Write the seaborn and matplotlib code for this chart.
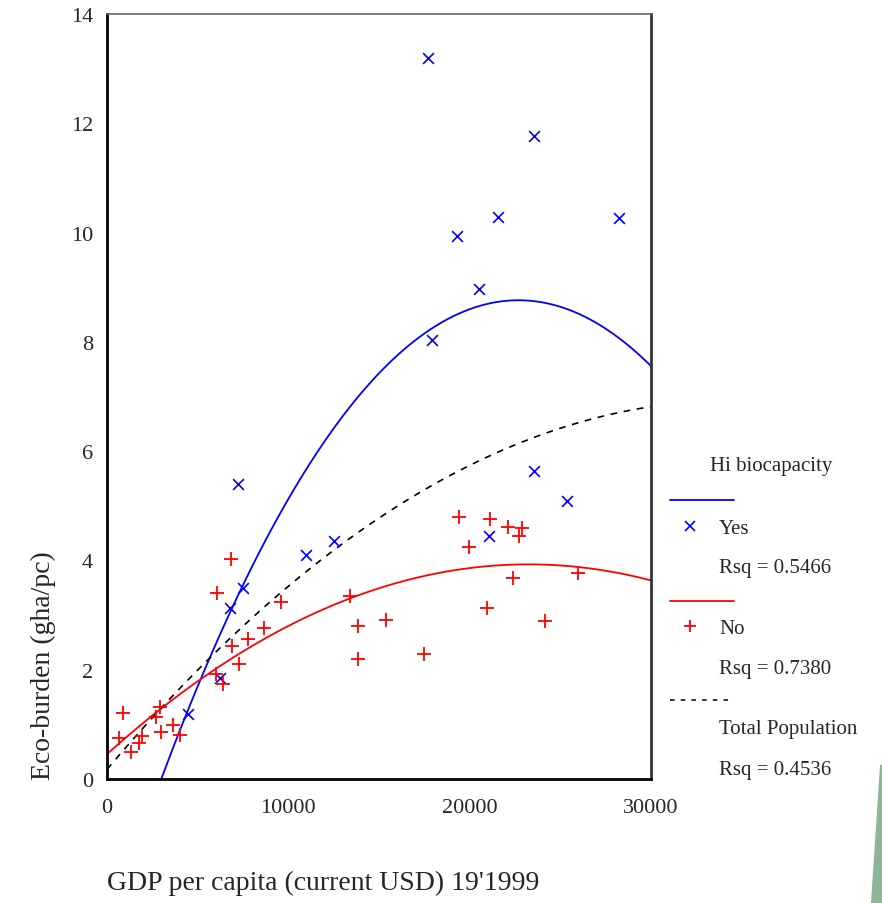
import matplotlib.pyplot as plt
import seaborn as sns
import pandas as pd
from matplotlib.lines import Line2D
from matplotlib.patches import Polygon

# Hi biocapacity = Yes
yes_gdp = [17700, 23550, 21570, 19300, 28240, 20520, 17930, 7230, 23550, 25370,
           10980, 12520, 21070, 7500, 6780, 6230, 4470]
yes_eco = [13.19, 11.76, 10.29, 9.94, 10.26, 8.96, 8.04, 5.40, 5.64, 5.09,
           4.10, 4.36, 4.45, 3.50, 3.13, 1.85, 1.19]

# Hi biocapacity = No
no_gdp = [6840, 6070, 9600, 13400, 8660, 7780, 6890, 7280, 13840, 15390,
          13840, 6010, 6400, 2920, 2700, 880, 3640, 2980, 4030, 1930,
          1770, 660, 1320, 19400, 21100, 22100, 22900, 22700, 19970, 25980,
          22400, 20960, 24160, 17480]
no_eco = [4.02, 3.41, 3.24, 3.35, 2.77, 2.56, 2.44, 2.11, 2.80, 2.91,
          2.20, 1.92, 1.74, 1.32, 1.14, 1.21, 0.99, 0.86, 0.81, 0.79,
          0.66, 0.75, 0.49, 4.80, 4.76, 4.62, 4.60, 4.45, 4.25, 3.77,
          3.68, 3.13, 2.89, 2.29]

rsq_labels = ["Rsq = 0.5466", "Rsq = 0.7380", "Rsq = 0.4536"]
y_ticks = [0, 2, 4, 6, 8, 10, 12, 14]
x_ticks = [0, 10000, 20000, 30000]

df = pd.concat([
    pd.DataFrame({"gdp": yes_gdp, "eco": yes_eco, "hibio": "Yes"}),
    pd.DataFrame({"gdp": no_gdp, "eco": no_eco, "hibio": "No"}),
], ignore_index=True)

sns.set_style("white")
plt.rcParams["font.family"] = ["Liberation Serif", "DejaVu Serif"]

fig = plt.figure(figsize=(8.82, 9.04), dpi=100)
ax = fig.add_axes([107 / 882, 1 - 780 / 904, 544 / 882, 765 / 904])
ax.set_xlim(0, 30000)
ax.set_ylim(0, 14)

blue = "#0000ff"
red = "#ff0000"

sns.regplot(data=df[df.hibio == "Yes"], x="gdp", y="eco", order=2, ci=None,
            truncate=False, marker="x", color=blue, ax=ax,
            scatter_kws={"s": 60, "linewidths": 1.2, "alpha": 1, "zorder": 3},
            line_kws={"lw": 1.3})
sns.regplot(data=df[df.hibio == "No"], x="gdp", y="eco", order=2, ci=None,
            truncate=False, marker="+", color=red, ax=ax,
            scatter_kws={"s": 90, "linewidths": 1.3, "alpha": 1, "zorder": 3},
            line_kws={"lw": 1.3})
sns.regplot(data=df, x="gdp", y="eco", order=2, ci=None, truncate=False,
            scatter=False, color="black", ax=ax,
            line_kws={"lw": 1.2, "ls": (0, (4, 4))})

ax.set_xlim(0, 30000)
ax.set_ylim(0, 14)
ax.set_xticks(x_ticks)
ax.set_xticklabels([str(t) for t in x_ticks])
ax.set_yticks(y_ticks)
ax.set_yticklabels([str(t) for t in y_ticks])
ax.tick_params(axis="both", direction="out", length=5, width=3, color="black",
               labelsize=16)
ax.tick_params(axis="x", pad=9)
ax.tick_params(axis="y", pad=5)

for side in ["left", "bottom"]:
    ax.spines[side].set_color("black")
    ax.spines[side].set_linewidth(2)
ax.spines["right"].set_color("#333333")
ax.spines["right"].set_linewidth(2)
ax.spines["top"].set_color("#666666")
ax.spines["top"].set_linewidth(1.2)

ax.set_xlabel("GDP per capita (current USD) 19'1999", fontsize=20, loc="left",
              labelpad=38)
ax.set_ylabel("Eco-burden (gha/pc)", fontsize=20, loc="bottom", labelpad=11)


def fx(px):
    return px / 882


def fy(py):
    return 1 - py / 904


# legend
fig.text(fx(710), fy(467), "Hi biocapacity", fontsize=15, va="center")
fig.add_artist(Line2D([fx(670), fx(734)], [fy(501)] * 2, color=blue, lw=1.3))
fig.add_artist(Line2D([fx(690)], [fy(527)], marker="x", color=blue, ms=7, mew=1.2, ls=""))
fig.text(fx(719), fy(530), "Yes", fontsize=15, va="center")
fig.text(fx(719), fy(569), rsq_labels[0], fontsize=15, va="center")
fig.add_artist(Line2D([fx(670), fx(734)], [fy(602)] * 2, color=red, lw=1.3))
fig.add_artist(Line2D([fx(690)], [fy(627)], marker="+", color=red, ms=9, mew=1.3, ls=""))
fig.text(fx(719), fy(630), "No", fontsize=15, va="center")
fig.text(fx(719), fy(670), rsq_labels[1], fontsize=15, va="center")
fig.add_artist(Line2D([fx(670), fx(734)], [fy(701)] * 2, color="black", lw=1.1,
                      ls=(0, (3, 4))))
fig.text(fx(719), fy(730), "Total Population", fontsize=15, va="center")
fig.text(fx(719), fy(770), rsq_labels[2], fontsize=15, va="center")

# slide decoration in the corner
fig.add_artist(Polygon([(fx(871), fy(904)), (fx(880), fy(766)), (1, fy(766)), (1, 0)],
                       closed=True, facecolor="#8fb496", edgecolor="none",
                       transform=fig.transFigure))

fig.savefig("out.png", dpi=100)
